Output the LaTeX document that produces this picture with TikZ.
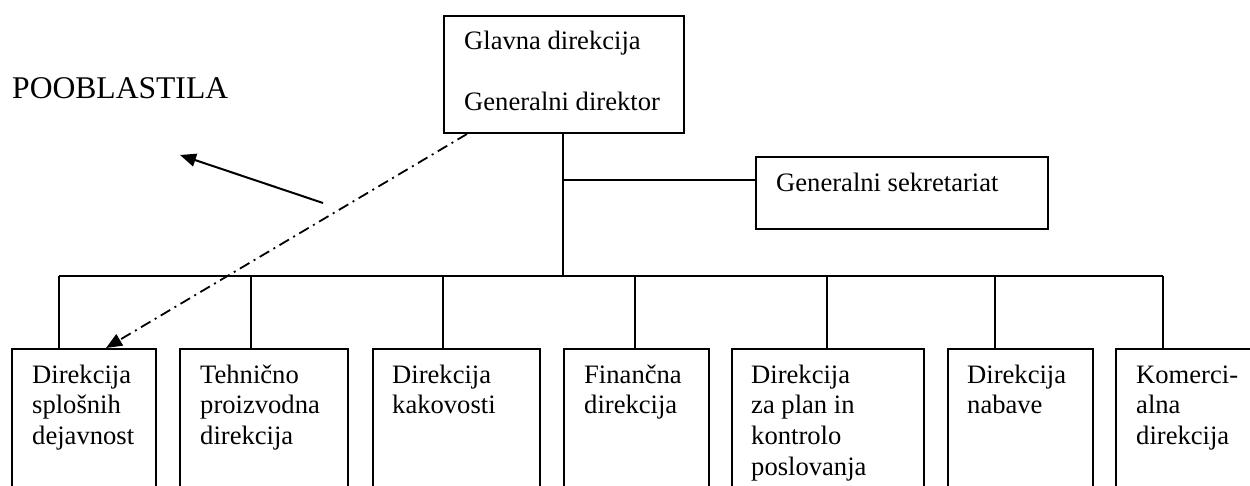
\documentclass[tikz,border=0pt]{standalone}
\usepackage{fontspec}
\setmainfont{Liberation Serif}
\usetikzlibrary{arrows.meta}
\begin{document}
\begin{tikzpicture}[x=1pt,y=-1pt,
  box/.style={draw,line width=2pt,rectangle,inner sep=0pt,anchor=north west},
  txt/.style={inner sep=0pt,anchor=base west,align=left,font=\fontsize{26.6}{30.8}\selectfont},
  conn/.style={line width=2pt},
  tip/.style={-{Triangle[length=16pt,width=13pt]}},
  dd/.style={line width=1.8pt,dash pattern=on 11pt off 5pt on 2pt off 5pt}]
\useasboundingbox (0,0) rectangle (1250,486);
\clip (0,0) rectangle (1250,486);
% top box
\node[box,minimum width=240pt,minimum height=117pt] (top) at (443,15) {};
\node[txt] (toptxt) at (464,111) {Glavna direkcija\\[31pt]Generalni direktor};
% sekretariat
\node[box,minimum width=292pt,minimum height=72pt] (sek) at (755,156) {};
\node[txt] (sektxt) at (776,192) {Generalni sekretariat};
% POOBLASTILA
\node[inner sep=0pt,anchor=base west,font=\fontsize{31.6}{36}\selectfont] (poo) at (12,99) {POOBLASTILA};
% bottom boxes
\node[box,minimum width=144pt,minimum height=170pt] (b1) at (11,348) {};
\node[box,minimum width=168pt,minimum height=170pt] (b2) at (179,348) {};
\node[box,minimum width=167pt,minimum height=170pt] (b3) at (372,348) {};
\node[box,minimum width=145pt,minimum height=170pt] (b4) at (563,348) {};
\node[box,minimum width=192pt,minimum height=170pt] (b5) at (731,348) {};
\node[box,minimum width=145pt,minimum height=170pt] (b6) at (947,348) {};
\node[box,minimum width=200pt,minimum height=170pt] (b7) at (1115,348) {};
\node[txt] (t1) at (32,444.6) {Direkcija\\splošnih\\dejavnost};
\node[txt] (t2) at (200,444.6) {Tehnično\\proizvodna\\direkcija};
\node[txt] (t3) at (392,413.8) {Direkcija\\kakovosti};
\node[txt] (t4) at (584,413.8) {Finančna\\direkcija};
\node[txt] (t5) at (751,475.4) {Direkcija\\za plan in\\kontrolo\\poslovanja};
\node[txt] (t6) at (967,413.8) {Direkcija\\nabave};
\node[txt] (t7) at (1136,444.6) {Komerci-\\alna\\direkcija};
% connectors
\coordinate (bar) at (563,276);
\coordinate (br) at (563,180);
\coordinate (d1) at (59,276);
\coordinate (d2) at (251,276);
\coordinate (d3) at (443,276);
\coordinate (d4) at (635,276);
\coordinate (d5) at (827,276);
\coordinate (d6) at (995,276);
\coordinate (d7) at (1163,276);
\draw[conn] (top.south -| bar) -- (bar);
\draw[conn] (br) -- (br -| sek.west);
\draw[conn] (d1) -- (d7);
\foreach \i in {1,...,7} {\draw[conn] (d\i) -- (d\i |- b\i.north);}
% arrows
\coordinate (as) at (323,203);
\coordinate (ae) at (180,155);
\draw[conn,tip] (as) -- (ae);
\coordinate (ds) at ([xshift=24pt]top.south west);
\coordinate (de) at ([xshift=95pt]b1.north west);
\draw[dd,tip] (ds) -- (de);
\end{tikzpicture}
\end{document}
